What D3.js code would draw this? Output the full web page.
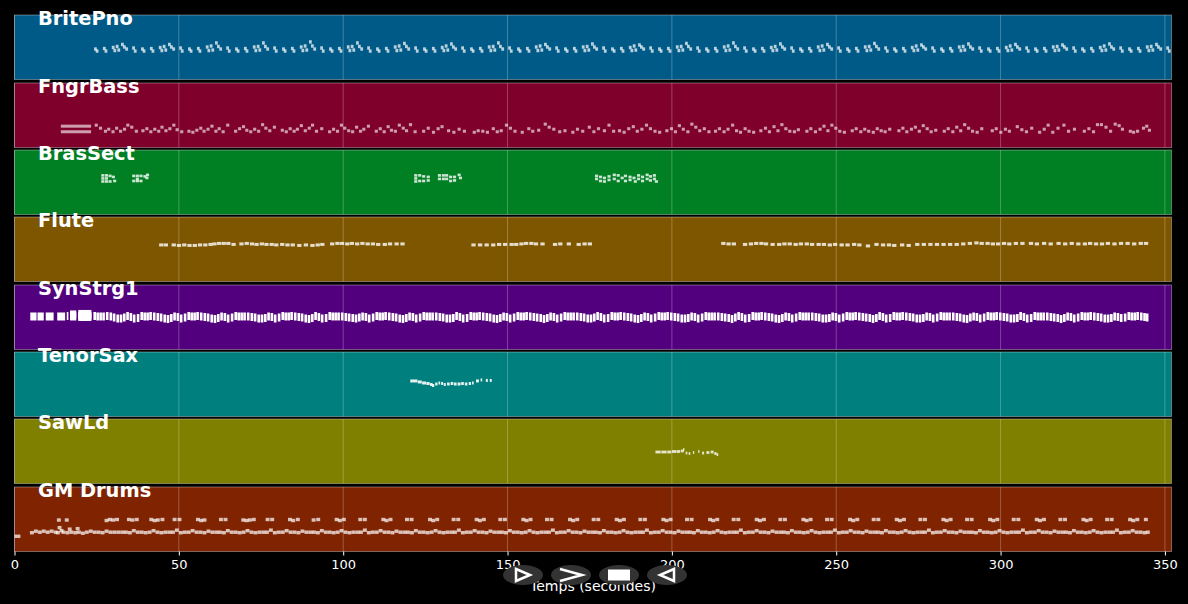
<!DOCTYPE html>
<html>
<head>
<meta charset="utf-8">
<script src="https://cdn.jsdelivr.net/npm/d3@7"></script>
<style>
  html, body { margin: 0; padding: 0; background: #000; }
  svg { display: block; font-family: "DejaVu Sans", sans-serif; }
</style>
</head>
<body>
<svg id="chart" width="1188" height="604"></svg>
<script>
// notes are [start seconds, midi pitch] or [start seconds, midi pitch, duration]
const britePno = [
[24.2,60],[24.7,56],[26.9,61],[27.4,56],[29.6,63],[30.1,57],[30.8,65],[31.3,58],[32.4,69],[33,64],[33.7,60],[35.8,62],[36.3,56],
[38.5,60],[39,56],[41.2,61],[41.7,56],[43.9,63],[44.4,57],[45.1,65],[45.6,58],[46.7,69],[47.3,64],[48,60],[50.1,62],[50.6,56],
[52.8,60],[53.3,56],[55.5,61],[56,56],[58.2,64],[58.7,57],[59.4,66],[59.9,58],[61,72],[61.6,65],[62.3,60],[64.4,62],[64.9,56],
[67.1,60],[67.6,56],[69.8,61],[70.3,56],[72.5,64],[73,57],[73.7,65],[74.2,58],[75.3,72],[75.9,65],[76.6,60],[78.7,62],[79.2,56],
[81.4,60],[81.9,56],[84.1,61],[84.6,56],[86.8,64],[87.3,57],[88,66],[88.5,58],[89.6,74],[90.2,66],[90.9,60],[93,62],[93.5,56],
[95.7,60],[96.2,56],[98.4,61],[98.9,56],[101.1,64],[101.6,57],[102.3,65],[102.8,58],[103.9,72],[104.5,65],[105.2,60],[107.3,62],[107.8,56],
[110,60],[110.5,56],[112.7,61],[113.2,56],[115.4,64],[115.9,57],[116.6,66],[117.1,58],[118.2,71],[118.8,65],[119.5,60],[121.6,62],[122.1,56],
[124.3,60],[124.8,56],[127,61],[127.5,56],[129.7,63],[130.2,57],[130.9,66],[131.4,58],[132.5,70],[133.1,64],[133.8,60],[135.9,62],[136.4,56],
[138.6,60],[139.1,56],[141.3,61],[141.8,56],[144,64],[144.5,57],[145.2,65],[145.7,58],[146.8,72],[147.4,65],[148.1,60],[150.2,62],[150.7,56],
[152.9,60],[153.4,56],[155.6,61],[156.1,56],[158.3,64],[158.8,57],[159.5,66],[160,58],[161.1,69],[161.7,64],[162.4,60],[164.5,62],[165,56],
[167.2,60],[167.7,56],[169.9,61],[170.4,56],[172.6,64],[173.1,57],[173.8,65],[174.3,58],[175.4,70],[176,64],[176.7,60],[178.8,62],[179.3,56],
[181.5,60],[182,56],[184.2,61],[184.7,56],[186.9,63],[187.4,57],[188.1,66],[188.6,58],[189.7,68],[190.3,64],[191,60],[193.1,62],[193.6,56],
[195.8,60],[196.3,56],[198.5,61],[199,56],[201.2,64],[201.7,57],[202.4,65],[202.9,58],[204,71],[204.6,65],[205.3,60],[207.4,62],[207.9,56],
[210.1,60],[210.6,56],[212.8,61],[213.3,56],[215.5,64],[216,57],[216.7,66],[217.2,58],[218.3,72],[218.9,65],[219.6,60],[221.7,62],[222.2,56],
[224.4,60],[224.9,56],[227.1,61],[227.6,56],[229.8,63],[230.3,57],[231,65],[231.5,58],[232.6,70],[233.2,64],[233.9,60],[236,62],[236.5,56],
[238.7,60],[239.2,56],[241.4,61],[241.9,56],[244.1,64],[244.6,57],[245.3,66],[245.8,58],[246.9,69],[247.5,64],[248.2,60],[250.3,62],[250.8,56],
[253,60],[253.5,56],[255.7,61],[256.2,56],[258.4,64],[258.9,57],[259.6,65],[260.1,58],[261.2,71],[261.8,65],[262.5,60],[264.6,62],[265.1,56],
[267.3,60],[267.8,56],[270,61],[270.5,56],[272.7,63],[273.2,57],[273.9,66],[274.4,58],[275.5,68],[276.1,64],[276.8,60],[278.9,62],[279.4,56],
[281.6,60],[282.1,56],[284.3,61],[284.8,56],[287,64],[287.5,57],[288.2,65],[288.7,58],[289.8,70],[290.4,64],[291.1,60],[293.2,62],[293.7,56],
[295.9,60],[296.4,56],[298.6,61],[299.1,56],[301.3,63],[301.8,57],[302.5,66],[303,58],[304.1,69],[304.7,64],[305.4,60],[307.5,62],[308,56],
[310.2,60],[310.7,56],[312.9,61],[313.4,56],[315.6,64],[316.1,57],[316.8,65],[317.3,58],[318.4,68],[319,64],[319.7,60],[321.8,62],[322.3,56],
[324.5,60],[325,56],[327.2,61],[327.7,56],[329.9,63],[330.4,57],[331.1,66],[331.6,58],[332.7,70],[333.3,64],[334,60],[336.1,62],[336.6,56],
[338.8,60],[339.3,56],[341.5,61],[342,56],[344.2,64],[344.7,57],[345.4,65],[345.9,58],[347,69],[347.6,64],[348.3,60],[350.4,62],[350.9,56]
];
const fngrBass = [
[14.1,42,9.2],[14.1,31,9.2],
[24.4,44],[25.7,38],[27.2,32],[28.2,36],[29.5,31],[30.6,38],[31.8,32],[33,36],[34,44],[35.2,40],[36.6,32],
[38.6,33],[39.8,37],[41,31],[42.2,36],[43.4,32],[44.4,40],[45.6,33],[46.8,37],[48,44],[49,35],[50.4,31],
[52.6,32],[53.8,30],[55,34],[56.2,38],[57.2,32],[58.4,36],[59.6,42],[60.8,32],[61.8,37],[63,31],[64.4,44],
[66.8,32],[68,37],[69.2,41],[70.2,34],[71.4,31],[72.6,36],[73.8,32],[75,45],[76,38],[77.2,33],[78.6,40],
[81,34],[82.2,31],[83.4,37],[84.6,32],[85.6,36],[86.8,43],[88,33],[89.2,38],[90.2,44],[91.4,32],[93,37],
[95.4,31],[96.6,36],[97.8,32],[99,44],[100,38],[101.2,33],[102.4,31],[103.6,40],[104.8,32],[105.8,36],[107.2,42],
[109.6,32],[110.8,37],[112,31],[113.2,41],[114.2,34],[115.4,32],[116.6,44],[117.8,38],[118.8,33],[120,45],[121.4,31],
[124,32],[125.4,38],[127,30],[128.4,37],[129.6,41],[131.6,33],[133.2,30],[134.8,36],[136.4,32],
[139.4,30],[140.6,33],[142,32],[143.4,30],[145.2,37],[146.4,31],[147.6,33],[149.2,44],[150.4,38],[151.8,32],
[154,30],[156,37],[157.2,32],[159,34],[161,46],[162.2,40],[163.6,36],[165.4,31],[167,33],
[169.4,30],[170.8,36],[172.4,32],[174.4,40],[175.8,31],[177.2,37],[179,33],[180.4,44],[181.8,32],
[183.6,33],[185,30],[186.4,37],[187.8,41],[189,32],[190.4,36],[191.8,44],[193,37],[194.4,32],[195.8,30],
[198,33],[199.4,37],[200.6,31],[201.8,43],[203,36],[204.4,31],[205.6,46],[206.8,40],[208,33],[209.4,37],[210.8,31],
[212.8,32],[214,37],[215.4,31],[216.6,36],[218,44],[219.2,33],[220.4,30],[221.8,37],[223,32],[224.4,30],
[226.6,33],[228,38],[229.2,31],[230.6,41],[231.8,33],[233,45],[234.2,37],[235.4,32],[236.8,31],[238,35],
[240.6,32],[241.8,37],[243.2,31],[244.6,36],[245.8,42],[247,33],[248.2,44],[249.4,38],[250.6,32],[252,30],
[254.4,33],[255.6,37],[257,31],[258.2,36],[259.4,32],[260.8,30],[262,37],[263.2,33],[264.4,31],[265.8,36],
[268.6,33],[269.8,38],[271,31],[272.4,36],[273.6,40],[274.8,32],[276,43],[277.2,37],[278.4,31],[279.8,34],
[282.4,32],[283.6,37],[285,31],[286.2,40],[287.4,33],[288.6,45],[289.8,38],[291,32],[292.4,30],[293.8,37],
[297,33],[298.2,37],[299.6,30],[301,36],[302.2,32],[304.6,41],[306,35],[307.4,31],[309,38],
[311.4,30],[312.8,36],[314,44],[315.4,30],[317,38],[318.8,44],[320.2,32],[322,36],
[325,32],[326.4,37],[327.8,31],[329,45],[330.2,45],[331.6,40],[333,32],[334.4,46],[335.6,43],[336.6,36],
[339,32],[340,30],[341.2,32],[343,38],[344,42],[344.8,34]
];
const brasSect = [
[26.4,77],[26.4,71],[26.4,65],[27.5,77],[27.5,71],[27.5,65],[28.6,76],[28.6,65],[29.6,74],[30,66],
[35.8,76],[35.8,66],[36.9,76],[36.9,70],[36.9,66],[38,76],[38,66],[39.2,75],[39.8,72],[40,78],
[121.6,77],[121.6,71],[121.6,65],[122.8,77],[122.8,66],[124,75],[124,66],[125.4,74],[125.4,67],
[128.8,77],[128.8,70],[130,77],[130,70],[131,77],[131,70],[132.2,74],[132.2,66],[133.4,74],[133.4,67],[134.8,78],[135.2,72],
[176.6,76],[176.6,70],[177.8,74],[177.8,66],[179,72],[179,65],[180.4,75],[180.4,68],[182,78],[182,70],[183.2,77],[183.2,66],
[184.4,72],[185.4,76],[185.4,66],[186.8,74],[186.8,68],[188,72],[188.4,65],[189.4,77],[189.4,70],[190.6,74],[190.6,66],
[192,78],[192,70],[193,75],[193,67],[194.2,77],[194.2,70],[194.8,65]
];
const flute = [
[44,72],[45.4,72],[47.8,72],[49.4,71],[51,72],[52.6,71],[54.2,71],[55.8,72],[57.4,72],[59,73],[60.2,74],[61.6,75],[63,75],[64.4,75],[66,73],
[68.4,74],[70,75],[71.6,74],[73,73],[74.6,74],[76,73],[77.6,73],[79,72],[80.8,73],[82.4,72],[84,72],[86,71],[88,72],[90,71],[91.6,72],[93,73],
[96,74],[97.6,75],[99,75],[100.6,74],[102,75],[103.6,74],[105.2,75],[106.8,74],[108.4,74],[110,73],[112,73],[113.6,74],[115.6,74],[117.4,74],
[139,72],[141,72],[143,72],[145,72],[146.8,73],[148.6,73],[150.6,73],[152,73],[153.6,74],[155,75],[156.6,75],[158,74],[160,74],[163.8,73],[165.4,74],[168,74],[171,73],[172.8,74],[174.4,74],
[215,75],[216.6,74],[218.2,74],[221.6,73],[223.4,74],[225,75],[226.6,75],[228,74],[230,73],[232,73],[233.6,74],[235.2,74],[237,73],[238.6,74],[240.4,74],
[242,73],[244,73],[245.6,73],[247.4,72],[249,73],[251,72],[252.8,72],[254.8,73],[256.4,72],[259,70],[261.6,73],[263.6,72],[265.4,72],[267,71],[269.4,72],[271.4,71],
[274,73],[276,73],[278,73],[280,73],[282,73],[284,73],[286,73],[288,74],[290,75],[292,76],[293.6,75],[295.4,75],[297,74],[298.6,74],[300.4,75],[302,74],[304,75],[306,75],
[308.6,75],[310.4,74],[312.6,75],[314.6,74],[317,75],[319,74],[321,75],[323,74],[325,74],[326.6,75],[328.4,74],[330.2,74],[332,75],[334,74],[336,75],[338,75],[340,74],[342,75],[343.6,75]
];
const synStrg1 = [
[4.8,65,1.9],[7,65,1.9],[9.5,65,2.4],[13,65,2.4],[15.9,66,0.5],[16.9,69,1.9],[16.9,65,1.9],[19.4,70,4],[19.4,66,4],[19.4,64,4],
[24,66],[24.9,65],[25.8,65],[26.7,65],[27.8,66],[28.9,65],[29.9,63],[31,61],[32,61],[33,63],[34,66],[35,64],[36,61],[37.2,62],
[38.3,66],[39.2,65],[40.1,65],[41,66],[42.1,65],[43.2,64],[44.2,63],[45.3,61],[46.3,60],[47.3,62],[48.3,65],[49.3,64],[50.3,61],[51.5,63],
[52.6,66],[53.5,65],[54.4,65],[55.3,66],[56.4,65],[57.5,64],[58.5,63],[59.6,61],[60.6,60],[61.6,62],[62.6,65],[63.6,64],[64.6,61],[65.8,63],
[66.9,66],[67.8,65],[68.7,65],[69.6,65],[70.7,65],[71.8,64],[72.8,63],[73.9,61],[74.9,61],[75.9,62],[76.9,65],[77.9,64],[78.9,61],[80.1,63],
[81.2,66],[82.1,65],[83,65],[83.9,66],[85,65],[86.1,64],[87.1,63],[88.2,61],[89.2,60],[90.2,62],[91.2,66],[92.2,64],[93.2,61],[94.4,62],
[95.5,66],[96.4,65],[97.3,65],[98.2,65],[99.3,65],[100.4,64],[101.4,63],[102.5,62],[103.5,61],[104.5,63],[105.5,65],[106.5,64],[107.5,61],[108.7,63],
[109.8,66],[110.7,65],[111.6,65],[112.5,66],[113.6,65],[114.7,64],[115.7,63],[116.8,61],[117.8,60],[118.8,62],[119.8,65],[120.8,64],[121.8,61],[123,63],
[124.1,66],[125,65],[125.9,65],[126.8,65],[127.9,65],[129,64],[130,63],[131.1,61],[132.1,61],[133.1,62],[134.1,66],[135.1,64],[136.1,61],[137.3,62],
[138.4,66],[139.3,65],[140.2,65],[141.1,66],[142.2,65],[143.3,64],[144.3,63],[145.4,61],[146.4,60],[147.4,62],[148.4,65],[149.4,64],[150.4,61],[151.6,63],
[152.7,66],[153.6,65],[154.5,65],[155.4,66],[156.5,65],[157.6,64],[158.6,63],[159.7,62],[160.7,60],[161.7,62],[162.7,65],[163.7,64],[164.7,61],[165.9,63],
[167,66],[167.9,65],[168.8,65],[169.7,65],[170.8,65],[171.9,64],[172.9,63],[174,61],[175,61],[176,63],[177,66],[178,64],[179,61],[180.2,62],
[181.3,66],[182.2,65],[183.1,65],[184,66],[185.1,65],[186.2,64],[187.2,63],[188.3,61],[189.3,60],[190.3,62],[191.3,65],[192.3,64],[193.3,61],[194.5,63],
[195.6,66],[196.5,65],[197.4,65],[198.3,66],[199.4,65],[200.5,64],[201.5,63],[202.6,61],[203.6,61],[204.6,62],[205.6,65],[206.6,64],[207.6,61],[208.8,63],
[209.9,66],[210.8,65],[211.7,65],[212.6,65],[213.7,65],[214.8,64],[215.8,63],[216.9,62],[217.9,60],[218.9,63],[219.9,66],[220.9,64],[221.9,61],[223.1,62],
[224.2,66],[225.1,65],[226,65],[226.9,66],[228,65],[229.1,64],[230.1,63],[231.2,61],[232.2,60],[233.2,62],[234.2,65],[235.2,64],[236.2,61],[237.4,63],
[238.5,66],[239.4,65],[240.3,65],[241.2,65],[242.3,65],[243.4,64],[244.4,63],[245.5,61],[246.5,61],[247.5,62],[248.5,65],[249.5,64],[250.5,61],[251.7,63],
[252.8,66],[253.7,65],[254.6,65],[255.5,66],[256.6,65],[257.7,64],[258.7,63],[259.8,62],[260.8,60],[261.8,62],[262.8,66],[263.8,64],[264.8,61],[266,62],
[267.1,66],[268,65],[268.9,65],[269.8,66],[270.9,65],[272,64],[273,63],[274.1,61],[275.1,61],[276.1,62],[277.1,65],[278.1,64],[279.1,61],[280.3,63],
[281.4,66],[282.3,65],[283.2,65],[284.1,65],[285.2,65],[286.3,64],[287.3,63],[288.4,61],[289.4,60],[290.4,63],[291.4,65],[292.4,64],[293.4,61],[294.6,63],
[295.7,66],[296.6,65],[297.5,65],[298.4,66],[299.5,65],[300.6,64],[301.6,63],[302.7,61],[303.7,61],[304.7,62],[305.7,66],[306.7,64],[307.7,61],[308.9,62],
[310,66],[310.9,65],[311.8,65],[312.7,65],[313.8,65],[314.9,64],[315.9,63],[317,62],[318,60],[319,62],[320,65],[321,64],[322,61],[323.2,63],
[324.3,66],[325.2,65],[326.1,65],[327,66],[328.1,65],[329.2,64],[330.2,63],[331.3,61],[332.3,61],[333.3,62],[334.3,65],[335.3,64],[336.3,62],[337.5,63],
[338.6,66],[339.5,65],[340.4,65],[341.3,66],[342.4,65],[343.4,64],[344.2,63]
];
const tenorSax = [
[120.4,70,2.2],[122.7,68,1.2],[124,66,1.2],[125.3,65,1],[126.4,63,0.8],[127,61,0.7],[128,64,0.7],[129,66,0.5],
[129.8,65,0.6],[130.6,63,0.6],[131.6,64,0.8],[132.7,65,0.8],[133.7,64,0.8],[134.8,64,0.9],[135.9,65,0.8],[137,64,0.8],
[138.2,65,0.7],[139.2,66,0.5],[140.4,70,0.9],[141.8,72,0.5],[143.4,71,0.6],[144.6,71,0.6]
];
const sawLd = [
[195,62,1.6],[196.8,62,1.6],[198.6,62,1.2],[200,63,1.4],[201.5,63,1],[202.7,64,0.9],[203.4,67,0.4],[204.2,60,0.5],[205.1,59,0.5],
[206.4,61,0.4],[208,63,0.4],[209.2,60,0.6],[210.5,61,0.9],[211.8,62,0.9],[212.9,59,0.7],[213.6,57,0.5]
];
const gmDrums = [
[0,30,1.8],
[4.7,37],[5.9,40],[7.1,38],[8.3,40],[9.5,38],[10.7,40],[11.9,38],[12.6,37],[13.1,47],[13.7,41],[14.3,38],[15.5,37],[16.2,44],[16.7,38],[17.9,37],[18.6,45],
[19,38],[20.2,36],[21.4,38],[22.6,40],[23.8,38],[25,38],[26.2,37],[27.4,40],[28.6,38],[29.8,38],[31,38],[32.2,38],
[33.3,38],[34.5,37],[35.7,41],[36.9,38],[38.1,38],[39.3,37],[40.5,38],[41.7,41],[42.9,38],[44.1,37],[45.3,38],[46.5,38],
[47.6,38],[48.8,42],[50,37],[51.2,38],[52.4,38],[53.6,41],[54.8,38],[56,38],[57.2,37],[58.4,40],[59.6,38],[60.8,38],
[61.9,38],[63.1,37],[64.3,41],[65.5,38],[66.7,38],[67.9,37],[69.1,38],[70.3,41],[71.5,38],[72.7,37],[73.9,38],[75.1,38],
[76.2,38],[77.4,42],[78.6,37],[79.8,38],[81,38],[82.2,41],[83.4,38],[84.6,38],[85.8,37],[87,40],[88.2,38],[89.4,38],
[90.5,38],[91.7,37],[92.9,41],[94.1,38],[95.3,38],[96.5,37],[97.7,38],[98.9,41],[100.1,38],[101.3,37],[102.5,38],[103.7,38],
[104.8,38],[106,42],[107.2,37],[108.4,38],[109.6,38],[110.8,41],[112,38],[113.2,38],[114.4,37],[115.6,40],[116.8,38],[118,38],
[119.1,38],[120.3,37],[121.5,41],[122.7,38],[123.9,38],[125.1,37],[126.3,38],[127.5,41],[128.7,38],[129.9,37],[131.1,38],[132.3,38],
[133.4,38],[134.6,42],[135.8,37],[137,38],[138.2,38],[139.4,41],[140.6,38],[141.8,38],[143,37],[144.2,40],[145.4,38],[146.6,38],
[147.7,38],[148.9,37],[150.1,41],[151.3,38],[152.5,38],[153.7,37],[154.9,38],[156.1,41],[157.3,38],[158.5,37],[159.7,38],[160.9,38],
[162,38],[163.2,42],[164.4,37],[165.6,38],[166.8,38],[168,41],[169.2,38],[170.4,38],[171.6,37],[172.8,40],[174,38],[175.2,38],
[176.3,38],[177.5,37],[178.7,41],[179.9,38],[181.1,38],[182.3,37],[183.5,38],[184.7,41],[185.9,38],[187.1,37],[188.3,38],[189.5,38],
[190.6,38],[191.8,42],[193,37],[194.2,38],[195.4,38],[196.6,41],[197.8,38],[199,38],[200.2,37],[201.4,40],[202.6,38],[203.8,38],
[204.9,38],[206.1,37],[207.3,41],[208.5,38],[209.7,38],[210.9,37],[212.1,38],[213.3,41],[214.5,38],[215.7,37],[216.9,38],[218.1,38],
[219.2,38],[220.4,42],[221.6,37],[222.8,38],[224,38],[225.2,41],[226.4,38],[227.6,38],[228.8,37],[230,40],[231.2,38],[232.4,38],
[233.5,38],[234.7,37],[235.9,41],[237.1,38],[238.3,38],[239.5,37],[240.7,38],[241.9,41],[243.1,38],[244.3,37],[245.5,38],[246.7,38],
[247.8,38],[249,42],[250.2,37],[251.4,38],[252.6,38],[253.8,41],[255,38],[256.2,38],[257.4,37],[258.6,40],[259.8,38],[261,38],
[262.1,38],[263.3,37],[264.5,41],[265.7,38],[266.9,38],[268.1,37],[269.3,38],[270.5,41],[271.7,38],[272.9,37],[274.1,38],[275.3,38],
[276.4,38],[277.6,42],[278.8,37],[280,38],[281.2,38],[282.4,41],[283.6,38],[284.8,38],[286,37],[287.2,40],[288.4,38],[289.6,38],
[290.7,38],[291.9,37],[293.1,41],[294.3,38],[295.5,38],[296.7,37],[297.9,38],[299.1,41],[300.3,38],[301.5,37],[302.7,38],[303.9,38],
[305,38],[306.2,42],[307.4,37],[308.6,38],[309.8,38],[311,41],[312.2,38],[313.4,38],[314.6,37],[315.8,40],[317,38],[318.2,38],
[319.3,38],[320.5,37],[321.7,41],[322.9,38],[324.1,38],[325.3,37],[326.5,38],[327.7,41],[328.9,38],[330.1,37],[331.3,38],[332.5,38],
[333.6,38],[334.8,42],[336,37],[337.2,38],[338.4,38],[339.6,41],[340.8,38],[342,38],[343.2,37],[344.2,38],
[12.9,62],[15.3,62],
[27.4,61],[28.4,63],[29.4,62],[30.6,63],[34.2,63],[35.3,62],[36.6,63],[41,63],[42,61],[43,62],[44.4,63],[48.1,63],[49.6,63],
[55.2,63],[56.2,61],[57.2,62],[62.2,63],[63.6,63],[69,62],[70,61],[71,62],[72.2,63],[76.4,63],[77.8,63],[83.2,63],[84.2,61],[85.6,63],[90.4,62],[91.8,63],
[97.4,63],[98.4,61],[99.6,63],[104.6,63],[106,63],[111.6,63],[112.6,61],[113.8,63],[118.8,63],[120.2,63],[125.8,63],[126.8,61],[128,63],[133,63],[134.4,63],
[140,63],[141,61],[142.2,63],[147.2,63],[148.6,63],[154.2,63],[155.2,61],[156.4,63],[161.4,63],[162.8,63],[168.4,63],[169.4,61],[170.6,63],[175.6,63],[177,63],
[182.6,63],[183.6,61],[184.8,63],[189.8,63],[191.2,63],[196.8,63],[197.8,61],[199,63],[204,63],[205.4,63],[211,63],[212,61],[213.2,63],[218.2,63],[219.6,63],
[225.2,63],[226.2,61],[227.4,63],[232.4,63],[233.8,63],[239.4,63],[240.4,61],[241.6,63],[246.6,63],[248,63],[253.6,63],[254.6,61],[255.8,63],[260.8,63],[262.2,63],
[267.8,63],[268.8,61],[270,63],[275,63],[276.4,63],[282,63],[283,61],[284.2,63],[289.2,63],[290.6,63],[296.2,63],[297.2,61],[298.4,63],[303.4,63],[304.8,63],
[310.4,63],[311.4,61],[312.6,63],[317.6,63],[319,63],[324.6,63],[325.6,61],[326.8,63],[331.8,63],[333.2,63],[338.8,63],[339.8,61],[341,63],[343.6,63]
];

const trackNames = ["BritePno", "FngrBass", "BrasSect", "Flute", "SynStrg1", "TenorSax", "SawLd", "GM Drums"];
const trackNotes = [britePno, fngrBass, brasSect, flute, synStrg1, tenorSax, sawLd, gmDrums];
const trackColors = ["#005a87", "#7f002b", "#007f23", "#7f5600", "#53007f", "#007f7f", "#7f7f00", "#7f2300"];
const panelTops = [15, 83, 150, 217, 285, 352, 419, 487];
const xTicks = [0, 50, 100, 150, 200, 250, 300, 350];

const panelHeight = 64.5;
// default note length in seconds, bar height in px and opacity per track
const noteDur = [0.85, 0.95, 0.95, 1.3, 0.8, 0.9, 0.9, 1.2];
const noteThick = [3.4, 3, 2.6, 3, 8, 3, 2.8, 3.4];
const noteAlpha = [0.72, 0.62, 0.8, 0.8, 1, 0.9, 0.8, 0.72];

const svg = d3.select("#chart");
const x = d3.scaleLinear().domain([0, 352]).range([14.5, 1171.5]);

const panels = svg.selectAll("g.track")
  .data(trackNames)
  .join("g")
  .attr("class", "track")
  .attr("transform", (d, i) => `translate(0,${panelTops[i]})`);

panels.append("rect")
  .attr("x", x(0))
  .attr("width", x(352) - x(0))
  .attr("height", panelHeight)
  .attr("fill", (d, i) => trackColors[i])
  .attr("stroke", "rgba(255,255,255,0.35)")
  .attr("stroke-width", 1);

// vertical grid
panels.selectAll("line.grid")
  .data(xTicks)
  .join("line")
  .attr("class", "grid")
  .attr("x1", d => x(d))
  .attr("x2", d => x(d))
  .attr("y1", 0)
  .attr("y2", panelHeight)
  .attr("stroke", "rgba(255,255,255,0.25)")
  .attr("stroke-width", 1);

const y = d3.scaleLinear().domain([0, 127]).range([panelHeight, 0]);

panels.each(function (name, i) {
  d3.select(this).selectAll("rect.note")
    .data(trackNotes[i])
    .join("rect")
    .attr("class", "note")
    .attr("x", d => x(d[0]))
    .attr("y", d => y(d[1]) - noteThick[i] / 2)
    .attr("width", d => x(d[2] || noteDur[i]) - x(0))
    .attr("height", noteThick[i])
    .attr("fill", "#fff")
    .attr("fill-opacity", noteAlpha[i]);
});

panels.append("text")
  .attr("x", 38)
  .attr("y", 9.5)
  .attr("fill", "#fff")
  .attr("font-weight", "bold")
  .attr("font-size", 19.4)
  .text(d => d);

const axis = d3.axisBottom(x).tickValues(xTicks).tickSize(4).tickPadding(4).tickFormat(d3.format("d"));
const axisG = svg.append("g")
  .attr("transform", `translate(0,${panelTops[7] + panelHeight})`)
  .call(axis);
axisG.select(".domain").remove();
axisG.selectAll("line").attr("stroke", "#fff");
axisG.selectAll("text").attr("fill", "#fff").attr("font-size", 13).attr("font-family", "DejaVu Sans");

svg.append("text")
  .attr("x", 593)
  .attr("y", 591)
  .attr("text-anchor", "middle")
  .attr("fill", "#fff")
  .attr("font-size", 14)
  .text("Temps (secondes)");

// playback buttons sit on top of the axis
const buttonX = [523, 571, 619, 667];
const buttons = svg.selectAll("g.btn")
  .data(buttonX)
  .join("g")
  .attr("class", "btn")
  .attr("transform", d => `translate(${d},575)`);
buttons.append("ellipse").attr("rx", 20).attr("ry", 10).attr("fill", "#333");
d3.select(buttons.nodes()[0]).append("path").attr("d", "M-7,-6 L7,0 L-7,6 Z").attr("fill", "none").attr("stroke", "#fff").attr("stroke-width", 2.5);
d3.select(buttons.nodes()[1]).append("path").attr("d", "M-11,-6 L11,0 L-11,6").attr("fill", "none").attr("stroke", "#fff").attr("stroke-width", 2.5);
d3.select(buttons.nodes()[2]).append("rect").attr("x", -11).attr("y", -5.5).attr("width", 22).attr("height", 11).attr("fill", "#fff");
d3.select(buttons.nodes()[3]).append("path").attr("d", "M7,-6 L-7,0 L7,6 Z").attr("fill", "none").attr("stroke", "#fff").attr("stroke-width", 2.5);
</script>
</body>
</html>
